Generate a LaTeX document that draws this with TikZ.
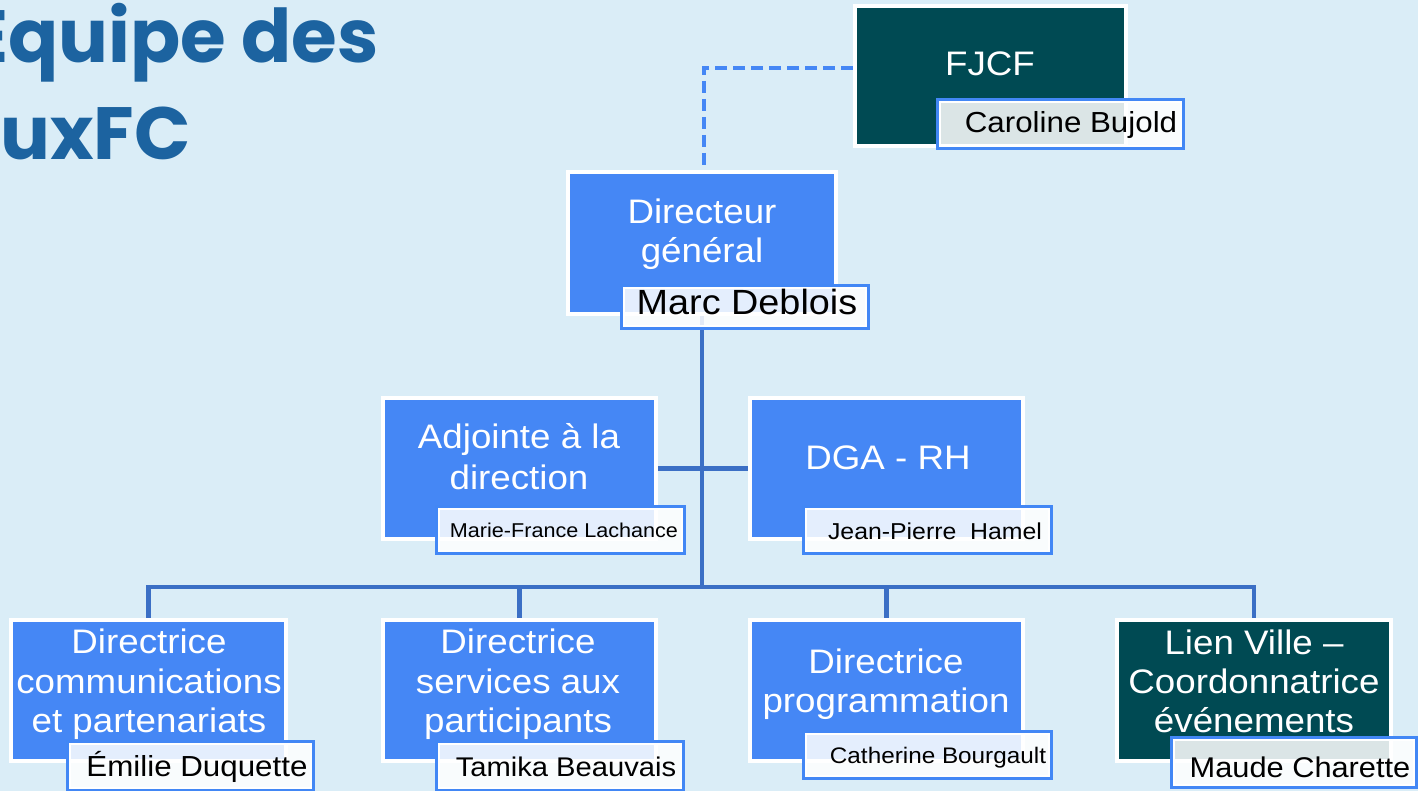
\documentclass[tikz,border=0pt]{standalone}
\usepackage{fontspec}
\setmainfont{Liberation Sans}[FakeStretch=1.08]
\newfontfamily\titlefont{Poppins}
\pgfdeclarelayer{bg}
\pgfdeclarelayer{lines}
\pgfsetlayers{bg,lines,main}
\definecolor{bgc}{HTML}{DAEDF7}
\definecolor{boxblue}{HTML}{4587F5}
\definecolor{tealc}{HTML}{004A53}
\definecolor{nameblue}{HTML}{4287F5}
\definecolor{connc}{HTML}{3B6FC5}
\definecolor{titlec}{HTML}{1C63A0}
\begin{document}
\begin{tikzpicture}[x=1pt,y=-1pt,
  box/.style={rectangle, draw=white, line width=4pt, fill=boxblue, inner sep=0pt},
  darkbox/.style={box, fill=tealc},
  namebox/.style={rectangle, draw=nameblue, line width=3.5pt, fill=white, fill opacity=0.86, inner sep=0pt,
     path picture={\draw[white, line width=7.5pt, draw opacity=1] (path picture bounding box.south west) rectangle (path picture bounding box.north east);}},
  big/.style={anchor=base, inner sep=0pt, text=white, font=\fontsize{34}{40}\selectfont},
  nm/.style={anchor=base, inner sep=0pt, text=black},
  conn/.style={draw=connc, line width=4.5pt},
  dashc/.style={draw=boxblue, line width=3.5pt, dash pattern=on 12pt off 6pt},
  title/.style={anchor=base west, inner sep=0pt, text=titlec, font=\titlefont\bfseries\fontsize{74}{84}\selectfont}
]
\useasboundingbox (0,0) rectangle (1418,791);
\begin{pgfonlayer}{bg}
\fill[bgc] (0,0) rectangle (1418,791);
\end{pgfonlayer}

% title
\node[title] (t1) at (8,63) {\llap{É}quipe des};
\node[title] (t2) at (0,160) {uxFC};

% boxes
\node[darkbox, minimum width=271pt, minimum height=140pt] (fjcf) at (990.5,76) {};
\node[box, minimum width=268pt, minimum height=142pt] (dg) at (702,243) {};
\node[box, minimum width=273pt, minimum height=141pt] (adj) at (519.5,468.5) {};
\node[box, minimum width=273pt, minimum height=141pt] (dga) at (886.5,468.5) {};
\node[box, minimum width=275pt, minimum height=141pt] (b1) at (148.5,690.5) {};
\node[box, minimum width=273pt, minimum height=141pt] (b2) at (519.5,690.5) {};
\node[box, minimum width=273pt, minimum height=141pt] (b3) at (886.5,690.5) {};
\node[darkbox, minimum width=274pt, minimum height=141pt] (b4) at (1254,690.5) {};

% connectors
\coordinate (bus) at (702,587);
\begin{pgfonlayer}{lines}
\draw[dashc] ([yshift=8pt]fjcf.west) -| ([xshift=2pt,yshift=-14pt]dg.north);
\draw[conn] (dg.south) -- (bus);
\draw[conn] (adj.east) -- (dga.west);
\draw[conn, line join=miter] (b1.north) |- (bus) -| (b4.north);
\draw[conn] (b2.north) -- (b2.north |- bus);
\draw[conn] (b3.north) -- (b3.north |- bus);
\end{pgfonlayer}

% box texts
\node[big] (fjcft) at (990,76) {FJCF};
\node[big] (dgt1) at (702,224) {Directeur};
\node[big] (dgt2) at (702,263) {général};
\node[big] (adjt1) at (519,448) {Adjointe à la};
\node[big] (adjt2) at (519,489) {direction};
\node[big] (dgat) at (888,469) {DGA - RH};
\node[big] (b1t1) at (149,653) {Directrice};
\node[big] (b1t2) at (149,693) {communications};
\node[big] (b1t3) at (149,732) {et partenariats};
\node[big] (b2t1) at (518,653) {Directrice};
\node[big] (b2t2) at (518,693) {services aux};
\node[big] (b2t3) at (518,732) {participants};
\node[big] (b3t1) at (886,673) {Directrice};
\node[big] (b3t2) at (886,712) {programmation};
\node[big] (b4t1) at (1254,654) {Lien Ville –};
\node[big] (b4t2) at (1254,693) {Coordonnatrice};
\node[big] (b4t3) at (1254,732) {événements};

% name boxes
\node[namebox, minimum width=246pt, minimum height=49pt] (carb) at (1060.5,124) {};
\node[namebox, minimum width=247pt, minimum height=43pt] (marcb) at (745,307) {};
\node[namebox, minimum width=248pt, minimum height=47pt] (marieb) at (560.5,530) {};
\node[namebox, minimum width=248pt, minimum height=47pt] (jeanb) at (927.5,530) {};
\node[namebox, minimum width=246pt, minimum height=49pt] (emb) at (190.5,766) {};
\node[namebox, minimum width=247pt, minimum height=49pt] (tamb) at (560,766) {};
\node[namebox, minimum width=248pt, minimum height=47pt] (catb) at (927.5,755) {};
\node[namebox, minimum width=245pt, minimum height=50pt] (maub) at (1294,762.5) {};

% names
\node[nm, font=\fontsize{29}{32}\selectfont] (cart) at (1071,133) {Caroline Bujold};
\node[nm, font=\fontsize{35}{38}\selectfont] (marct) at (747,315) {Marc Deblois};
\node[nm, font=\fontsize{20}{24}\selectfont] (mariet) at (564,537) {Marie-France Lachance};
\node[nm, font=\fontsize{23}{26}\selectfont] (jeant) at (935,539) {Jean-Pierre\ \ Hamel};
\node[nm, font=\fontsize{29}{32}\selectfont] (emt) at (197,776) {Émilie Duquette};
\node[nm, font=\fontsize{27}{30}\selectfont] (tamt) at (566,776) {Tamika Beauvais};
\node[nm, font=\fontsize{22.5}{26}\selectfont] (catt) at (938,763) {Catherine Bourgault};
\node[nm, font=\fontsize{28.5}{32}\selectfont] (maut) at (1300,777) {Maude Charette};
\end{tikzpicture}
\end{document}
